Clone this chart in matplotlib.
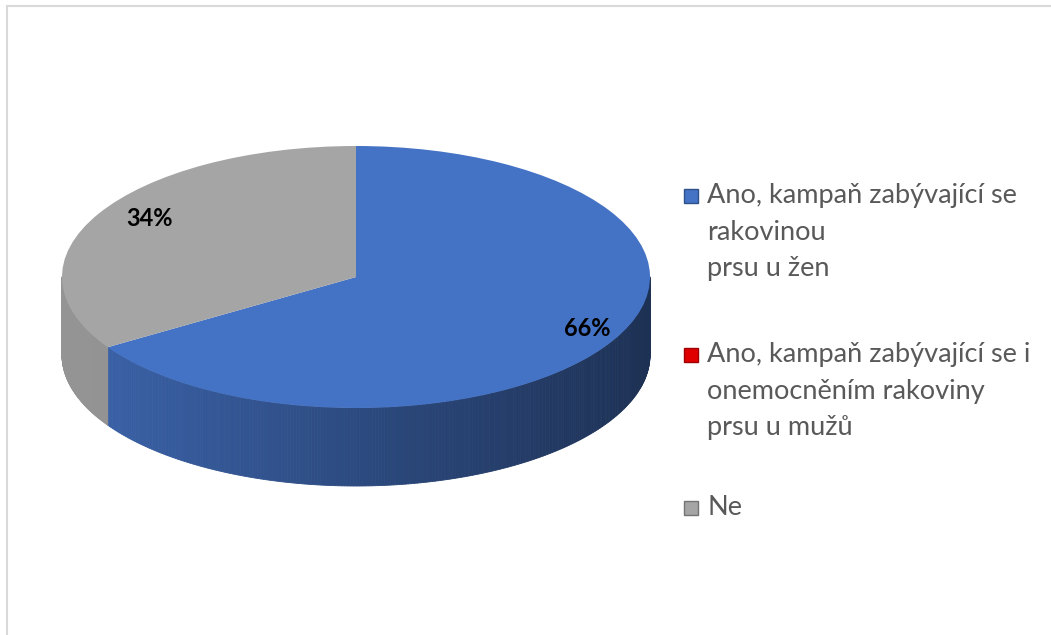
import numpy as np
import matplotlib
matplotlib.use("Agg")
import matplotlib.pyplot as plt
from matplotlib.patches import Wedge, Polygon, Rectangle
from matplotlib.lines import Line2D
from matplotlib.transforms import Affine2D
import matplotlib.colors as mcolors

# data
categories = ["Ano, kampaň zabývající se\nrakovinou\nprsu u žen",
              "Ano, kampaň zabývající se i\nonemocněním rakoviny\nprsu u mužů",
              "Ne"]
values = [66, 0, 34]
labels = ["66%", "", "34%"]
colors = ["#4472C4", "#E00000", "#A5A5A5"]

W, H = 1051, 635
fig = plt.figure(figsize=(W / 100, H / 100), dpi=100)
fig.patch.set_facecolor("white")

# axes in pixel-like coordinates (y down)
ax = fig.add_axes([0, 0, 1, 1])
ax.set_xlim(0, W)
ax.set_ylim(H, 0)
ax.axis("off")

# chart border (top + left only visible)
ax.add_line(Line2D([7, W], [6, 6], color="#D9D9D9", lw=1.5))
ax.add_line(Line2D([7, 7], [6, H], color="#D9D9D9", lw=1.5))

cx, cy = 356, 277
rx, ry = 294, 131
depth = 78
scale_y = ry / rx

# slice angles: start at 12 o'clock, clockwise
total = sum(values)
starts = []
a = 90.0
for v in values:
    starts.append(a)
    a -= 360.0 * v / total


def shade(col, f):
    r, g, b = mcolors.to_rgb(col)
    return (min(r * f, 1), min(g * f, 1), min(b * f, 1))


# side walls, drawn as thin strips for the shading
for v, s, col in zip(values, starts, colors):
    if v == 0:
        continue
    e = s - 360.0 * v / total
    ts = np.linspace(np.radians(e), np.radians(s), 400)
    for t0, t1 in zip(ts[:-1], ts[1:]):
        tm = 0.5 * (t0 + t1)
        if np.sin(tm) > 0:  # back side hidden
            continue
        x0, x1 = cx + rx * np.cos(t0), cx + rx * np.cos(t1)
        y0, y1 = cy - ry * np.sin(t0), cy - ry * np.sin(t1)
        # lighter on the left, darker on the right
        u = (np.cos(tm) + 1) / 2
        f = 0.88 - 0.45 * u
        if col == "#A5A5A5":
            f = 0.90 - 0.12 * u
        ax.add_patch(Polygon([[x0, y0], [x1, y1], [x1, y1 + depth], [x0, y0 + depth]],
                             closed=True, facecolor=shade(col, f),
                             edgecolor=shade(col, f), lw=0.6))

# top face
tr = Affine2D().translate(-cx, -cy).scale(1, scale_y).translate(cx, cy) + ax.transData
for v, s, col in zip(values, starts, colors):
    if v == 0:
        continue
    e = s - 360.0 * v / total
    # y axis is inverted, so mirror the angles
    w = Wedge((cx, cy), rx, -s, -e, facecolor=col, edgecolor="none", transform=tr)
    ax.add_patch(w)

# percentage labels
label_pos = [(587, 328), None, (150, 218)]
for lab, pos in zip(labels, label_pos):
    if lab:
        ax.text(pos[0], pos[1], lab, ha="center", va="center", fontsize=17,
                fontweight="bold", color="black", family="Lato")

# legend
leg_y = [196, 355, 508]
for cat, col, y in zip(categories, colors, leg_y):
    ax.add_patch(Rectangle((684, y - 7), 14, 14, facecolor=col,
                           edgecolor=shade(col, 0.7), lw=1))
    ax.text(707, y - 13, cat, ha="left", va="top", fontsize=19.5,
            color="#595959", family="Lato", linespacing=1.58)

fig.savefig("out.png", dpi=100, facecolor="white")
